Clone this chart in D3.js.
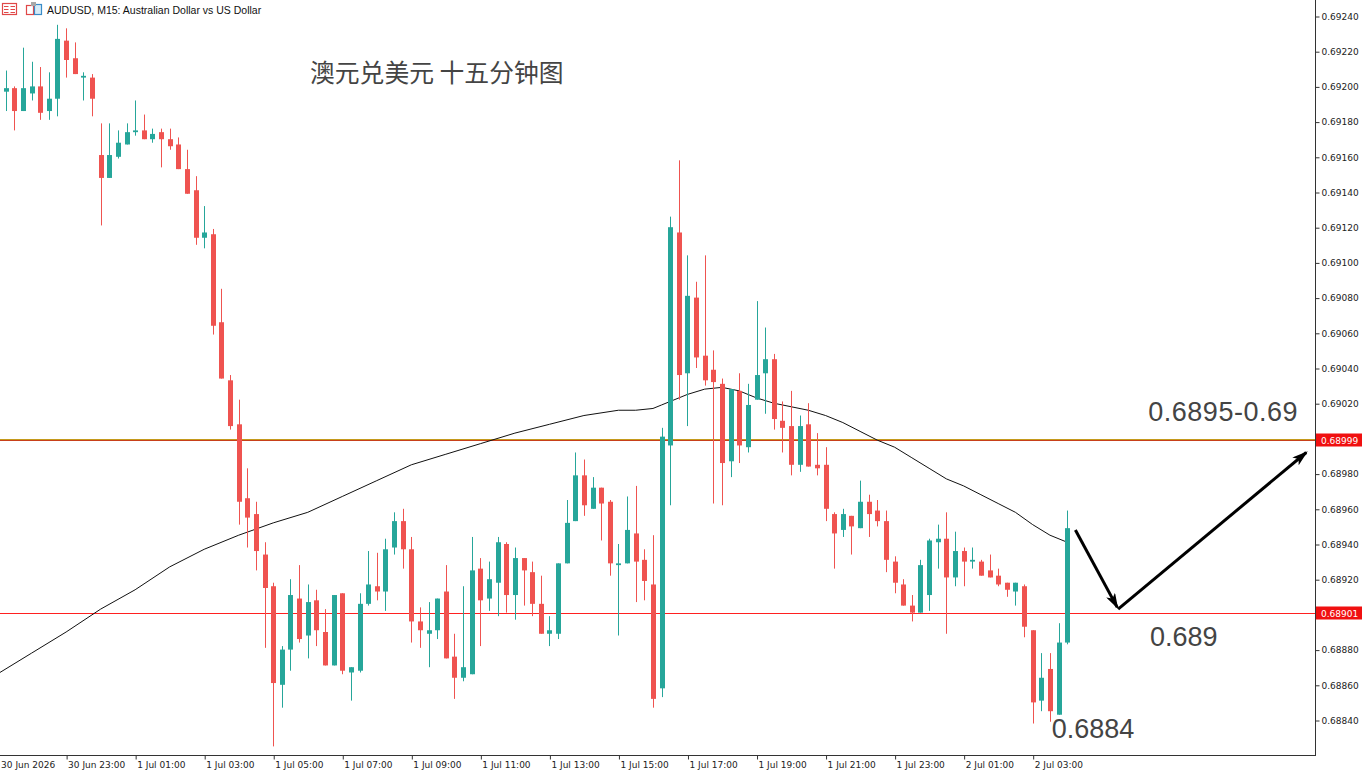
<!DOCTYPE html>
<html>
<head>
<meta charset="utf-8">
<script src="https://cdn.jsdelivr.net/npm/d3@7/dist/d3.min.js"></script>
<style>
  body { margin: 0; background: #fff; }
  svg { display: block; }
</style>
</head>
<body>
<svg id="chart" width="1366" height="774"></svg>
<script>
// AUDUSD M15, bars 1..124 (30 Jun 21:15 -> 2 Jul 04:00)
var opens = [0.69197,0.69199,0.69186,0.69196,0.69200,0.69186,0.69193,0.69226,0.69216,0.69205,
  0.69205,0.69161,0.69148,0.69160,0.69167,0.69174,0.69175,0.69170,0.69174,0.69170,
  0.69167,0.69153,0.69141,0.69114,0.69116,0.69066,0.69033,0.69008,0.68966,0.68957,
  0.68934,0.68916,0.68860,0.68880,0.68909,0.68888,0.68908,0.68890,0.68871,0.68912,
  0.68867,0.68868,0.68906,0.68916,0.68913,0.68938,0.68953,0.68937,0.68896,0.68889,
  0.68891,0.68913,0.68876,0.68864,0.68866,0.68926,0.68909,0.68918,0.68940,0.68911,
  0.68932,0.68924,0.68906,0.68889,0.68889,0.68929,0.68953,0.68979,0.68960,0.68972,
  0.68964,0.68928,0.68929,0.68946,0.68931,0.68917,0.68858,0.68996,0.69117,0.69037,
  0.69080,0.69047,0.69039,0.69031,0.68987,0.69027,0.68995,0.69022,0.69037,0.69045,
  0.69010,0.69007,0.68985,0.69008,0.68985,0.68985,0.68957,0.68948,0.68956,0.68949,
  0.68964,0.68959,0.68953,0.68930,0.68917,0.68905,0.68901,0.68911,0.68941,0.68943,
  0.68921,0.68936,0.68930,0.68930,0.68925,0.68922,0.68918,0.68913,0.68916,0.68891,
  0.68851,0.68869,0.68843,0.68884];
var highs = [0.69209,0.69200,0.69222,0.69214,0.69211,0.69208,0.69235,0.69233,0.69225,0.69208,
  0.69207,0.69179,0.69179,0.69175,0.69179,0.69192,0.69184,0.69176,0.69176,0.69176,
  0.69171,0.69164,0.69149,0.69132,0.69119,0.69085,0.69036,0.69022,0.68983,0.68964,
  0.68941,0.68918,0.68882,0.68920,0.68928,0.68917,0.68914,0.68903,0.68911,0.68912,
  0.68870,0.68912,0.68936,0.68935,0.68943,0.68958,0.68960,0.68944,0.68904,0.68907,
  0.68909,0.68928,0.68889,0.68916,0.68944,0.68932,0.68930,0.68944,0.68941,0.68938,
  0.68932,0.68930,0.68922,0.68899,0.68929,0.68965,0.68992,0.68988,0.68978,0.68972,
  0.68965,0.68940,0.68967,0.68973,0.68937,0.68945,0.69006,0.69126,0.69158,0.69104,
  0.69089,0.69104,0.69050,0.69034,0.69028,0.69037,0.69031,0.69078,0.69063,0.69048,
  0.69021,0.69027,0.69013,0.69020,0.69003,0.68995,0.68958,0.68960,0.68956,0.68976,
  0.68968,0.68965,0.68959,0.68933,0.68920,0.68911,0.68931,0.68943,0.68951,0.68958,
  0.68947,0.68938,0.68938,0.68931,0.68934,0.68926,0.68918,0.68918,0.68917,0.68891,
  0.68878,0.68878,0.68895,0.68959];
var lows = [0.69186,0.69175,0.69186,0.69192,0.69181,0.69181,0.69183,0.69205,0.69207,0.69192,
  0.69183,0.69121,0.69148,0.69159,0.69167,0.69172,0.69170,0.69168,0.69154,0.69164,
  0.69153,0.69139,0.69110,0.69108,0.69059,0.69034,0.69005,0.68951,0.68938,0.68925,
  0.68881,0.68825,0.68847,0.68868,0.68884,0.68875,0.68882,0.68871,0.68871,0.68866,
  0.68851,0.68867,0.68905,0.68908,0.68902,0.68934,0.68926,0.68884,0.68881,0.68870,
  0.68886,0.68875,0.68852,0.68862,0.68866,0.68882,0.68902,0.68899,0.68901,0.68897,
  0.68905,0.68899,0.68889,0.68882,0.68886,0.68929,0.68953,0.68956,0.68960,0.68942,
  0.68922,0.68888,0.68929,0.68907,0.68908,0.68847,0.68853,0.68962,0.69022,0.69007,
  0.69040,0.69030,0.68963,0.68962,0.68978,0.68986,0.68992,0.69022,0.69014,0.69005,
  0.68992,0.68979,0.68981,0.68984,0.68979,0.68953,0.68926,0.68944,0.68934,0.68949,
  0.68944,0.68950,0.68924,0.68912,0.68905,0.68896,0.68901,0.68902,0.68926,0.68889,
  0.68916,0.68916,0.68926,0.68922,0.68921,0.68916,0.68910,0.68905,0.68887,0.68838,
  0.68845,0.68839,0.68843,0.68883];
var closes = [0.69199,0.69186,0.69199,0.69200,0.69185,0.69193,0.69227,0.69215,0.69207,0.69206,
  0.69193,0.69148,0.69161,0.69168,0.69174,0.69175,0.69170,0.69173,0.69170,0.69166,
  0.69153,0.69139,0.69114,0.69117,0.69064,0.69034,0.69007,0.68964,0.68955,0.68936,
  0.68915,0.68861,0.68880,0.68911,0.68886,0.68907,0.68891,0.68871,0.68911,0.68868,
  0.68870,0.68906,0.68917,0.68913,0.68937,0.68953,0.68937,0.68896,0.68891,0.68891,
  0.68909,0.68875,0.68864,0.68870,0.68925,0.68908,0.68920,0.68941,0.68911,0.68932,
  0.68925,0.68906,0.68889,0.68891,0.68929,0.68952,0.68979,0.68962,0.68972,0.68963,
  0.68929,0.68929,0.68948,0.68930,0.68919,0.68852,0.69001,0.69120,0.69036,0.69081,
  0.69046,0.69033,0.69032,0.68986,0.69028,0.68996,0.69019,0.69036,0.69045,0.69011,
  0.69006,0.68985,0.69007,0.68984,0.68983,0.68960,0.68946,0.68957,0.68950,0.68964,
  0.68957,0.68953,0.68931,0.68918,0.68905,0.68901,0.68928,0.68942,0.68943,0.68921,
  0.68936,0.68930,0.68931,0.68922,0.68921,0.68917,0.68914,0.68918,0.68893,0.68850,
  0.68864,0.68845,0.68884,0.68949];

// moving average (black line), sampled at bar numbers
var maBars = [0,4,8,12,16,20,24,28,32,36,40,44,48,52,56,60,64,68,72,74,76,77,78,80,82,84,
  86,88,90,92,94,96,98,100,102,104,106,108,110,112,114,116,118,120,122,124];
var maValues = [0.68866,0.68878,0.68890,0.68903,0.68914,0.68927,0.68937,0.68945,0.68952,0.68958,
  0.68967,0.68976,0.68985,0.68991,0.68997,0.69003,0.69008,0.69013,0.69016,0.69016,0.69017,0.69019,
  0.69021,0.69025,0.69028,0.69029,0.69027,0.69023,0.69020,0.69018,0.69016,0.69013,0.69009,0.69004,
  0.68999,0.68995,0.68989,0.68983,0.68977,0.68973,0.68968,0.68963,0.68958,0.68951,0.68945,0.68941];

// time scale labels, one every 8 bars
var tickBars = [0,8,16,24,32,40,48,56,64,72,80,88,96,104,112,120];
var tickLabels = ["30 Jun 2026","30 Jun 23:00","1 Jul 01:00","1 Jul 03:00","1 Jul 05:00",
  "1 Jul 07:00","1 Jul 09:00","1 Jul 11:00","1 Jul 13:00","1 Jul 15:00","1 Jul 17:00",
  "1 Jul 19:00","1 Jul 21:00","1 Jul 23:00","2 Jul 01:00","2 Jul 03:00"];

// price scale ticks
var priceTicks = d3.range(0, 21).map(function (i) { return +(0.68840 + i * 0.0002).toFixed(5); });

// horizontal levels and their axis tags
var levels = [0.68999, 0.68901];

// hand drawn annotations, in bar / price units
var notes = [
  { text: "0.6895-0.69", bar: 133.4, price: 0.69010 },
  { text: "0.689", bar: 133.6, price: 0.68882 },
  { text: "0.6884", bar: 122.2, price: 0.68830 }
];
var arrows = [
  [[124.95, 0.68948], [129.8, 0.68904]],
  [[129.9, 0.68903], [151.7, 0.68992]]
];

var plotRight = 1315, plotBottom = 755;
var upCol = "#26a69a", downCol = "#ef5350";

var svg = d3.select("#chart");

var x = d3.scaleLinear().domain([1, 124]).range([5.7, 1067.2]);
var y = d3.scaleLinear().domain([0.68840, 0.69240]).range([720, 16]);

var defs = svg.append("defs");
defs.append("clipPath").attr("id", "plotclip")
  .append("rect").attr("x", 0).attr("y", 0).attr("width", plotRight).attr("height", plotBottom);
defs.append("marker")
  .attr("id", "arrowhead")
  .attr("markerUnits", "userSpaceOnUse")
  .attr("viewBox", "0 0 16 10")
  .attr("refX", 14).attr("refY", 5)
  .attr("markerWidth", 16).attr("markerHeight", 10)
  .attr("orient", "auto")
  .append("path").attr("d", "M0,0 L16,5 L0,10 L4,5 z").attr("fill", "#000");

var plot = svg.append("g").attr("clip-path", "url(#plotclip)");

// level lines (upper one is a gold line with a red one under it)
function ly(v) { return Math.round(y(v)) + 0.5; }
plot.append("line")
  .attr("x1", 0).attr("x2", plotRight)
  .attr("y1", ly(levels[0]) - 1).attr("y2", ly(levels[0]) - 1)
  .attr("stroke", "#c49a1c").attr("stroke-width", 1);
plot.selectAll("line.level").data(levels).enter().append("line")
  .attr("class", "level")
  .attr("x1", 0).attr("x2", plotRight)
  .attr("y1", function (d) { return ly(d); })
  .attr("y2", function (d) { return ly(d); })
  .attr("stroke", function (d, i) { return i === 0 ? "#c8401a" : "#ff2020"; })
  .attr("stroke-width", 1);

// moving average
var maLine = d3.line()
  .x(function (d, i) { return x(maBars[i]); })
  .y(function (d) { return y(d); });
plot.append("path")
  .attr("d", maLine(maValues))
  .attr("fill", "none")
  .attr("stroke", "#111")
  .attr("stroke-width", 1);

// candles
var bars = d3.range(opens.length).map(function (i) {
  return { n: i + 1, o: opens[i], h: highs[i], l: lows[i], c: closes[i] };
});
var candle = plot.selectAll("g.candle").data(bars).enter().append("g").attr("class", "candle");
candle.append("line")
  .attr("x1", function (d) { return Math.round(x(d.n)) + 0.5; })
  .attr("x2", function (d) { return Math.round(x(d.n)) + 0.5; })
  .attr("y1", function (d) { return y(d.h); })
  .attr("y2", function (d) { return y(d.l); })
  .attr("stroke", function (d) { return d.c >= d.o ? upCol : downCol; })
  .attr("stroke-width", 1);
candle.append("rect")
  .attr("x", function (d) { return Math.round(x(d.n)) - 2; })
  .attr("width", 5)
  .attr("y", function (d) { return y(Math.max(d.o, d.c)); })
  .attr("height", function (d) { return Math.max(1.5, y(Math.min(d.o, d.c)) - y(Math.max(d.o, d.c))); })
  .attr("fill", function (d) { return d.c >= d.o ? upCol : downCol; });

// arrows
plot.selectAll("path.arrow").data(arrows).enter().append("path")
  .attr("class", "arrow")
  .attr("d", d3.line().x(function (d) { return x(d[0]); }).y(function (d) { return y(d[1]); }))
  .attr("fill", "none")
  .attr("stroke", "#000")
  .attr("stroke-width", 3)
  .attr("marker-end", "url(#arrowhead)");

// annotation texts
svg.selectAll("text.note").data(notes).enter().append("text")
  .attr("class", "note")
  .attr("x", function (d) { return x(d.bar); })
  .attr("y", function (d) { return y(d.price); })
  .attr("font-family", "'Liberation Sans', Arial, sans-serif")
  .attr("font-size", 27)
  .attr("letter-spacing", function (d, i) { return i === 0 ? 0.5 : 0; })
  .attr("fill", "#444")
  .text(function (d) { return d.text; });

// chinese title
svg.append("text")
  .attr("x", 310).attr("y", 82)
  .attr("font-family", "'Noto Sans CJK SC', sans-serif")
  .attr("font-size", 24.8)
  .attr("fill", "#444")
  .text("澳元兑美元 十五分钟图");

// price axis
var yAxis = d3.axisRight(y)
  .tickValues(priceTicks)
  .tickFormat(d3.format(".5f"))
  .tickSize(4)
  .tickPadding(2);
var ya = svg.append("g")
  .attr("transform", "translate(" + (plotRight + 0.5) + ",0.5)")
  .call(yAxis);
ya.select(".domain").remove();
ya.selectAll("text")
  .attr("font-family", "'DejaVu Sans', sans-serif")
  .attr("font-size", 9)
  .attr("fill", "#222");
ya.selectAll("line").attr("stroke", "#333");

// time axis (first label kept just inside the left edge)
var xAxis = d3.axisBottom(x)
  .tickValues(tickBars)
  .tickFormat(function (d, i) { return tickLabels[i]; })
  .tickSize(4)
  .tickPadding(2);
var xa = svg.append("g")
  .attr("transform", "translate(0.5," + (plotBottom + 0.5) + ")")
  .call(xAxis);
xa.select(".domain").remove();
xa.selectAll("text")
  .attr("text-anchor", "start")
  .attr("dx", function (d, i) { return i === 0 ? 3 : 1; })
  .attr("font-family", "'DejaVu Sans', sans-serif")
  .attr("font-size", 9)
  .attr("fill", "#222");
xa.selectAll("line").attr("stroke", "#333");

// frame
svg.append("line").attr("x1", plotRight + 0.5).attr("x2", plotRight + 0.5)
  .attr("y1", 0).attr("y2", plotBottom + 1).attr("stroke", "#333");
svg.append("line").attr("x1", 0).attr("x2", plotRight + 1)
  .attr("y1", plotBottom + 0.5).attr("y2", plotBottom + 0.5).attr("stroke", "#333");

// price tags for the two levels
var tag = svg.selectAll("g.tag").data(levels).enter().append("g")
  .attr("class", "tag")
  .attr("transform", function (d) { return "translate(" + (plotRight + 1) + "," + Math.round(y(d)) + ")"; });
tag.append("rect")
  .attr("x", 0).attr("y", -6.5).attr("width", 46).attr("height", 13)
  .attr("fill", "#f01010");
tag.append("text")
  .attr("x", 5).attr("y", 3.5)
  .attr("font-family", "'DejaVu Sans', sans-serif")
  .attr("font-size", 9)
  .attr("fill", "#fff")
  .text(function (d) { return d3.format(".5f")(d); });

// header: icons and symbol caption
var hdr = svg.append("g");
hdr.append("rect").attr("x", 2.5).attr("y", 3.5).attr("width", 14).attr("height", 11)
  .attr("fill", "#fff").attr("stroke", "#e04848").attr("stroke-width", 1.2);
[6.5, 9.5, 12.5].forEach(function (yy) {
  hdr.append("line").attr("x1", 4).attr("x2", 8.5).attr("y1", yy).attr("y2", yy).attr("stroke", "#e04848");
  hdr.append("line").attr("x1", 10.5).attr("x2", 15).attr("y1", yy).attr("y2", yy).attr("stroke", "#e04848");
});
hdr.append("rect").attr("x", 26.5).attr("y", 5.5).attr("width", 7).attr("height", 9)
  .attr("fill", "#fff").attr("stroke", "#e04848").attr("stroke-width", 1.2);
hdr.append("rect").attr("x", 34.5).attr("y", 4.5).attr("width", 7).attr("height", 10)
  .attr("fill", "#d6ecf8").attr("stroke", "#3a8cc8").attr("stroke-width", 1.2);
hdr.append("rect").attr("x", 31).attr("y", 2).attr("width", 5).attr("height", 4).attr("fill", "#a8a8a8");
hdr.append("text")
  .attr("x", 47).attr("y", 14)
  .attr("font-family", "'Liberation Sans', Arial, sans-serif")
  .attr("font-size", 10.5)
  .attr("fill", "#111")
  .text("AUDUSD, M15:  Australian Dollar vs US Dollar");
</script>
</body>
</html>
